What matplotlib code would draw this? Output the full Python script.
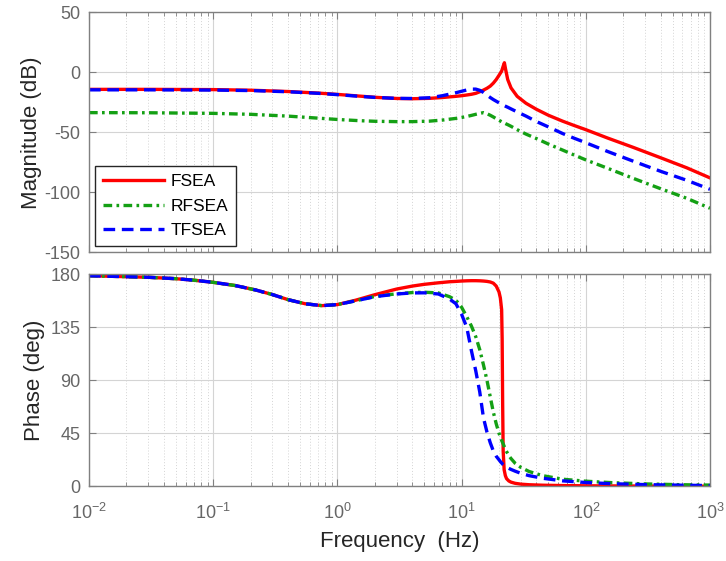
import numpy as np
import matplotlib
matplotlib.use("Agg")
import matplotlib.pyplot as plt
from matplotlib.ticker import LogLocator, NullFormatter

plt.rcParams['font.family'] = ['Liberation Sans', 'DejaVu Sans']
plt.rcParams['mathtext.fontset'] = 'custom'
plt.rcParams['mathtext.rm'] = 'Liberation Sans'
plt.rcParams['mathtext.it'] = 'Liberation Sans:italic'
plt.rcParams['axes.unicode_minus'] = False

## DATA
f_mag = [0.01, 0.03, 0.1, 0.2, 0.4, 0.7, 1, 1.5, 2, 3, 4, 5.5, 7, 9, 10, 11, 12, 13, 14, 15,
         16, 17, 18, 19, 20, 21, 21.6, 22.1, 22.6, 23.5, 25, 28, 33, 40, 50, 65, 80, 100,
         150, 240, 400, 650, 1000]
mag_fsea = [-14.2, -14.2, -14.4, -14.9, -16.0, -17.3, -18.4, -19.8, -20.8, -21.8, -22.0, -21.7,
            -21.0, -20.0, -19.5, -18.9, -18.3, -17.5, -16.2, -14.8, -13.3, -11.5, -9.0, -6.0,
            -2.5, 1.0, 5.0, 8.0, 2.5, -6.0, -13.0, -20.0, -25.8, -30.8, -35.8, -40.7, -44.2,
            -47.8, -54.8, -62.5, -71.2, -79.6, -88.0]
mag_rfsea = [-33.6, -33.7, -34.2, -35.0, -36.5, -38.2, -39.3, -40.3, -40.8, -41.1, -41.1, -40.7,
             -39.8, -38.4, -37.6, -36.8, -35.9, -35.0, -34.2, -33.6, -34.5, -35.8, -37.2, -38.7,
             -40.0, -41.2, -41.8, -42.3, -42.8, -43.6, -45.0, -47.8, -51.5, -55.2, -59.8, -64.8,
             -68.8, -73.0, -80.0, -88.3, -97.0, -105.0, -113.3]
mag_tfsea = [-14.6, -14.6, -14.8, -15.2, -16.2, -17.5, -18.6, -20.0, -20.9, -21.7, -21.8, -21.2,
             -19.5, -17.0, -15.8, -14.7, -14.0, -14.0, -15.0, -16.8, -19.0, -21.0, -22.7, -24.1,
             -25.4, -26.6, -27.3, -27.8, -28.3, -29.1, -30.5, -33.0, -36.5, -41.0, -45.5, -51.0,
             -54.8, -58.7, -66.0, -74.0, -82.5, -90.0, -97.5]

f_ph = [0.01, 0.02, 0.03, 0.05, 0.07, 0.1, 0.15, 0.22, 0.3, 0.4, 0.55, 0.75, 1, 1.4, 2, 3, 4, 5,
        6.5, 8, 9, 10, 11, 12, 13, 14, 15, 16, 17, 18, 19, 20, 20.5, 21, 21.2, 21.4, 21.6, 22,
        22.5, 23, 24, 25, 27, 30, 35, 45, 65, 100, 160, 300, 600, 1000]
ph_low = [178.8, 178.0, 177.5, 176.3, 175.0, 173.2, 170.5, 166.7, 162.8, 158.5, 155.0, 153.4, 154.3]
ph_fsea = ph_low + [158.0, 162.7, 167.5, 170.0, 171.5, 172.8, 173.7, 174.0, 174.3, 174.5, 174.6,
                    174.6, 174.5, 174.3, 174.0, 173.5, 172.5, 170.0, 165.0, 160.0, 150.0, 125.0,
                    70.0, 30.0, 14.0, 9.0, 6.5, 4.5, 3.5, 2.5, 1.8, 1.3, 0.9, 0.6, 0.4, 0.3, 0.2,
                    0.1, 0.1]
ph_rfsea = ph_low + [157.5, 161.2, 163.5, 164.5, 164.8, 164.2, 161.0, 158.0, 152.0, 144.0, 136.0,
                     127.0, 116.0, 103.0, 90.0, 76.0, 63.0, 53.0, 45.0, 42.0, 39.0, 38.0, 37.0,
                     36.0, 34.0, 31.5, 29.5, 26.0, 23.5, 19.5, 16.0, 12.5, 9.0, 6.0, 4.3, 3.1, 2.0,
                     1.3, 1.0]
ph_tfsea = ph_low + [157.5, 161.0, 163.3, 164.2, 164.3, 163.3, 159.0, 155.0, 146.0, 135.0, 115.0,
                     98.0, 80.0, 58.0, 46.0, 37.0, 30.0, 25.5, 22.5, 21.0, 19.8, 19.3, 18.8, 18.3,
                     17.6, 16.8, 16.2, 15.2, 14.3, 12.8, 11.0, 9.0, 6.8, 4.6, 3.2, 2.2, 1.4, 0.9,
                     0.6]

labels = ['FSEA', 'RFSEA', 'TFSEA']
colors = ['#ff0000', '#14a014', '#0000ff']
dashes = [None, (2.6, 1.3, 0.8, 1.3), (3.5, 2.0)]

tick_col = '#666666'
spine_col = '#808080'


def style_axes(ax):
    ax.set_xscale('log')
    ax.set_xlim(1e-2, 1e3)
    ax.xaxis.set_major_locator(LogLocator(base=10, numticks=10))
    ax.xaxis.set_minor_locator(LogLocator(base=10, subs=np.arange(2, 10), numticks=20))
    ax.xaxis.set_minor_formatter(NullFormatter())
    ax.grid(True, which='major', color='#d4d4d4', lw=0.8, ls='-')
    ax.grid(True, which='minor', axis='x', color='#d4d4d4', lw=0.7, ls=(0, (1, 2)))
    ax.set_axisbelow(True)
    ax.tick_params(which='both', direction='in', top=True, right=True,
                   colors=spine_col, labelcolor=tick_col, labelsize=13)
    ax.tick_params(which='major', length=5)
    ax.tick_params(which='minor', length=3)
    ax.tick_params(axis='y', pad=6)
    for s in ax.spines.values():
        s.set_color(spine_col)
        s.set_linewidth(1.0)


fig = plt.figure(figsize=(7.26, 5.61), dpi=100)
ax1 = fig.add_axes([0.1226, 0.5503, 0.8554, 0.4277])
ax2 = fig.add_axes([0.1226, 0.1332, 0.8554, 0.3778])

# magnitude
for y, lab, c, d in zip([mag_fsea, mag_rfsea, mag_tfsea], labels, colors, dashes):
    line, = ax1.plot(f_mag, y, color=c, lw=2.4, label=lab)
    if d is not None:
        line.set_dashes(d)
style_axes(ax1)
ax1.set_ylim(-150, 50)
ax1.set_yticks([-150, -100, -50, 0, 50])
ax1.tick_params(labelbottom=False)
ax1.set_ylabel('Magnitude (dB)', fontsize=16, color='#262626', labelpad=2)
leg = ax1.legend(loc='lower left', bbox_to_anchor=(0.01, 0.025), borderaxespad=0, fontsize=12.5,
                 fancybox=False, edgecolor='#262626', framealpha=1, handlelength=3.5,
                 borderpad=0.45, labelspacing=0.55, handletextpad=0.4)
leg.get_frame().set_linewidth(1.0)

# phase
for y, lab, c, d in zip([ph_fsea, ph_rfsea, ph_tfsea], labels, colors, dashes):
    line, = ax2.plot(f_ph, y, color=c, lw=2.4, label=lab)
    if d is not None:
        line.set_dashes(d)
style_axes(ax2)
ax2.set_ylim(0, 180)
ax2.set_yticks([0, 45, 90, 135, 180])
ax2.tick_params(axis='x', which='major', pad=12)
ax2.set_ylabel('Phase (deg)', fontsize=16, color='#262626', labelpad=4)
ax2.set_xlabel('Frequency  (Hz)', fontsize=16, color='#262626', labelpad=6)

fig.savefig('out.png', dpi=100)
